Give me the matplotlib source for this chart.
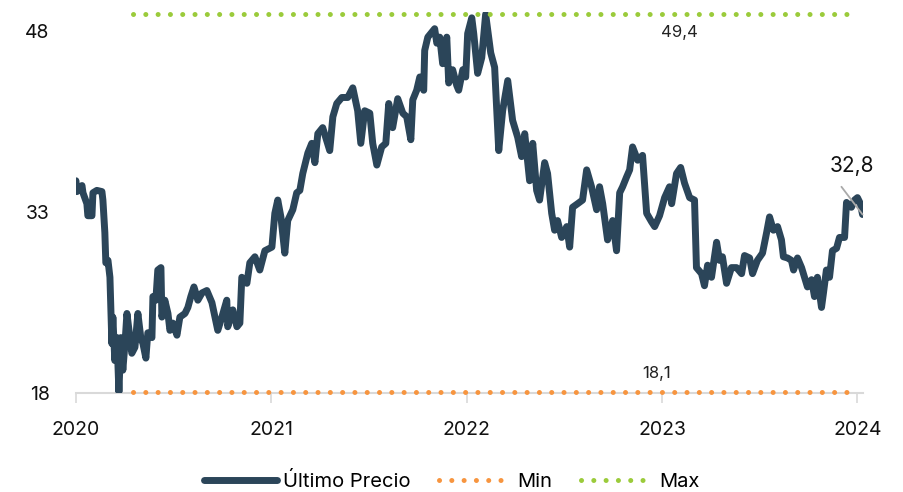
import matplotlib.pyplot as plt

# price series, x in decimal years
years = [
    2020.000, 2020.005, 2020.031, 2020.036, 2020.056, 2020.061, 2020.082, 2020.087, 2020.107, 2020.133,
    2020.138, 2020.148, 2020.153, 2020.164, 2020.174, 2020.184, 2020.189, 2020.199, 2020.210, 2020.220,
    2020.230, 2020.240, 2020.251, 2020.261, 2020.276, 2020.286, 2020.302, 2020.317, 2020.332, 2020.343,
    2020.358, 2020.368, 2020.389, 2020.394, 2020.409, 2020.419, 2020.435, 2020.440, 2020.455, 2020.471,
    2020.481, 2020.496, 2020.517, 2020.532, 2020.558, 2020.573, 2020.588, 2020.604, 2020.624, 2020.645,
    2020.670, 2020.696, 2020.726, 2020.747, 2020.772, 2020.777, 2020.803, 2020.824, 2020.839, 2020.849,
    2020.875, 2020.890, 2020.916, 2020.941, 2020.967, 2021.003, 2021.018, 2021.033, 2021.049, 2021.069,
    2021.084, 2021.110, 2021.130, 2021.146, 2021.161, 2021.187, 2021.207, 2021.223, 2021.238, 2021.263,
    2021.299, 2021.315, 2021.335, 2021.361, 2021.391, 2021.417, 2021.442, 2021.458, 2021.478, 2021.504,
    2021.519, 2021.540, 2021.565, 2021.586, 2021.601, 2021.621, 2021.647, 2021.673, 2021.693, 2021.714,
    2021.724, 2021.744, 2021.760, 2021.780, 2021.785, 2021.801, 2021.821, 2021.836, 2021.847, 2021.862,
    2021.877, 2021.898, 2021.908, 2021.928, 2021.949, 2021.959, 2021.980, 2021.995, 2022.005, 2022.026,
    2022.036, 2022.056, 2022.077, 2022.097, 2022.123, 2022.143, 2022.164, 2022.184, 2022.210, 2022.235,
    2022.261, 2022.281, 2022.297, 2022.322, 2022.338, 2022.358, 2022.373, 2022.399, 2022.414, 2022.435,
    2022.450, 2022.465, 2022.486, 2022.512, 2022.527, 2022.542, 2022.568, 2022.593, 2022.614, 2022.639,
    2022.665, 2022.680, 2022.696, 2022.721, 2022.747, 2022.767, 2022.783, 2022.798, 2022.818, 2022.834,
    2022.849, 2022.875, 2022.900, 2022.921, 2022.946, 2022.962, 2022.987, 2023.013, 2023.038, 2023.049,
    2023.074, 2023.095, 2023.115, 2023.141, 2023.166, 2023.176, 2023.202, 2023.217, 2023.233, 2023.253,
    2023.279, 2023.294, 2023.309, 2023.330, 2023.355, 2023.381, 2023.407, 2023.422, 2023.448, 2023.463,
    2023.488, 2023.514, 2023.535, 2023.550, 2023.570, 2023.591, 2023.611, 2023.621, 2023.642, 2023.662,
    2023.673, 2023.693, 2023.714, 2023.729, 2023.744, 2023.765, 2023.780, 2023.795, 2023.816, 2023.826,
    2023.841, 2023.857, 2023.872, 2023.893, 2023.908, 2023.934, 2023.944, 2023.969, 2023.985, 2024.000,
    2024.015, 2024.026,
]
prices = [
    35.6, 34.7, 35.2, 34.6, 33.7, 32.7, 32.7, 34.6, 34.8, 34.7,
    34.0, 31.3, 28.8, 29.0, 27.6, 22.1, 24.3, 20.7, 22.6, 18.1,
    22.6, 19.9, 22.1, 24.6, 22.6, 21.3, 21.8, 24.6, 22.6, 22.1,
    20.9, 23.0, 22.6, 26.0, 25.7, 28.2, 28.4, 24.3, 25.7, 24.6,
    23.2, 23.8, 22.8, 24.3, 24.6, 25.1, 26.0, 26.8, 25.7, 26.3,
    26.5, 25.5, 23.2, 24.3, 25.7, 23.5, 24.9, 23.5, 23.8, 27.6,
    27.1, 28.8, 29.3, 28.2, 29.8, 30.1, 32.9, 34.0, 32.6, 29.6,
    32.3, 33.2, 34.6, 34.8, 36.2, 37.9, 38.7, 37.1, 39.5, 40.0,
    38.1, 40.9, 42.0, 42.5, 42.5, 43.3, 41.4, 38.7, 41.4, 41.2,
    38.7, 36.9, 38.4, 38.7, 42.0, 40.0, 42.4, 41.2, 40.9, 39.0,
    42.3, 43.1, 44.2, 43.1, 46.4, 47.5, 47.9, 48.2, 47.0, 47.5,
    45.3, 47.5, 43.7, 44.8, 43.5, 43.1, 44.8, 44.2, 47.8, 49.1,
    47.8, 44.5, 45.8, 49.4, 46.2, 45.0, 38.1, 41.4, 43.9, 40.6,
    39.2, 37.6, 39.5, 35.6, 38.7, 34.8, 34.0, 37.1, 36.2, 32.9,
    31.5, 32.3, 30.9, 31.8, 30.1, 33.4, 33.7, 34.0, 36.5, 35.1,
    33.2, 35.1, 33.7, 30.7, 32.3, 29.8, 34.6, 35.1, 35.9, 36.5,
    38.4, 37.3, 37.7, 32.9, 32.2, 31.8, 32.7, 34.2, 35.1, 33.7,
    36.2, 36.7, 35.4, 34.2, 34.0, 28.4, 27.9, 26.9, 28.6, 27.6,
    30.5, 29.0, 29.3, 27.1, 28.4, 28.4, 27.9, 29.4, 29.2, 27.9,
    29.0, 29.6, 31.3, 32.6, 31.5, 31.8, 30.7, 29.3, 29.2, 29.0,
    28.2, 29.2, 28.4, 27.6, 26.8, 27.4, 26.0, 27.6, 25.1, 26.3,
    28.2, 27.6, 29.8, 30.0, 30.9, 30.9, 33.8, 33.4, 34.0, 34.2,
    33.7, 32.8,
]

min_value = 18.1
max_value = 49.4
band_start, band_end = 2020.29, 2024.0
last_value = 32.8

year_ticks = [2020, 2021, 2022, 2023, 2024]
y_ticks = [18, 33, 48]

navy = "#2B4559"
orange = "#F7953F"
green = "#9BCB3B"

plt.rcParams['font.family'] = ['Inter', 'DejaVu Sans']

fig = plt.figure(figsize=(9.04, 4.92), dpi=100)
ax = fig.add_axes([0.084, 0.201, 0.871, 0.775])

ax.plot(years, prices, color=navy, lw=5, solid_joinstyle='round',
        solid_capstyle='round', label="Último Precio", zorder=3)
ax.plot([band_start, band_end], [min_value, min_value], color=orange, lw=3.6,
        linestyle=(0, (0.01, 2.45)), dash_capstyle='round', label="Min",
        zorder=4, clip_on=False)
ax.plot([band_start, band_end], [max_value, max_value], color=green, lw=3.6,
        linestyle=(0, (0.01, 2.45)), dash_capstyle='round', label="Max",
        zorder=4, clip_on=False)

ax.text(2023.09, max_value - 0.9, "49,4", ha='center', va='top', fontsize=12, color="#222222")
ax.text(2022.97, min_value + 0.9, "18,1", ha='center', va='bottom', fontsize=12, color="#222222")

# last value label with leader line
ax.annotate("", xy=(years[-1], prices[-1]), xytext=(2023.918, 35.1),
            arrowprops=dict(arrowstyle='-', color="#AAAAAA", lw=1.3, shrinkA=0, shrinkB=0))
ax.text(2023.97, 36.0, f"{last_value:.1f}".replace('.', ','), ha='center', va='bottom',
        fontsize=15, color="#111111")

ax.set_xlim(2020, 2024.03)
ax.set_ylim(18, 49.6)
ax.set_xticks(year_ticks)
ax.set_xticklabels([str(y) for y in year_ticks], fontsize=14, color="#111111")
ax.set_yticks(y_ticks)
ax.set_yticklabels([str(v) for v in y_ticks], fontsize=14, color="#111111")
ax.tick_params(axis='y', length=0, pad=19)
ax.tick_params(axis='x', length=7, color="#D9D9D9", width=1.2, pad=13)

for side in ['top', 'right', 'left']:
    ax.spines[side].set_visible(False)
ax.spines['bottom'].set_color("#D9D9D9")
ax.spines['bottom'].set_linewidth(1.5)

fig.legend(loc='lower center', bbox_to_anchor=(0.5, -0.035), ncol=3, frameon=False,
           fontsize=14.5, handlelength=3.6, columnspacing=1.4, handletextpad=0.3)

fig.savefig("out.png", dpi=100)
